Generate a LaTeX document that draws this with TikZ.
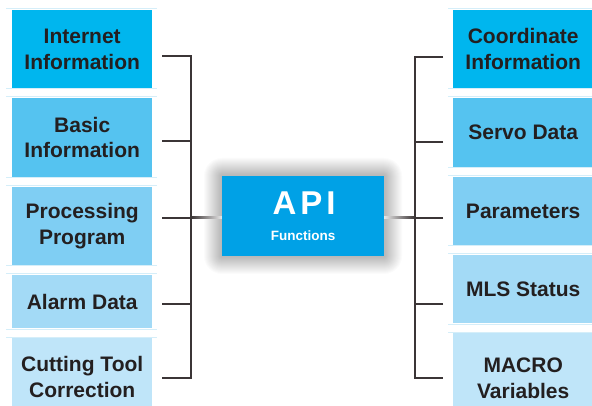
\documentclass[tikz,border=0pt]{standalone}
\usepackage{fontspec}
\setmainfont{Liberation Sans}
\usetikzlibrary{calc}
\definecolor{c1}{HTML}{00B6EE}
\definecolor{c2}{HTML}{55C3F0}
\definecolor{c3}{HTML}{7FCEF3}
\definecolor{c4}{HTML}{A3DAF6}
\definecolor{c5}{HTML}{BFE5F9}
\definecolor{apic}{HTML}{00A1E6}
\definecolor{txt}{HTML}{231F20}
\definecolor{linec}{HTML}{3B3536}
\definecolor{sepc}{HTML}{D5EEF9}
\begin{document}
\begin{tikzpicture}[x=1pt,y=-1pt,
  box/.style={draw=none, inner sep=0pt, align=center, anchor=north west,
    font=\fontsize{21}{25.5}\selectfont\bfseries, text=txt},
  conn/.style={draw=linec, line width=2pt},
  sep/.style={draw=sepc, line width=1pt}]
\useasboundingbox (0,0) rectangle (592,406);
\clip (0,0) rectangle (592,406);
\fill[white] (0,0) rectangle (592,406);
% separators
\foreach \y in {9,89,97,178,186,266,274,329,337} \draw[sep] (6,\y) -- (157,\y);
\foreach \y in {9,89,97,168,176,246,254,324,332} \draw[sep] (448,\y) -- (592,\y);
% left boxes
\node[box, fill=c1, minimum width=140pt, minimum height=78pt] (l1) at (12,10) {Internet\\Information};
\node[box, fill=c2, minimum width=140pt, minimum height=79pt] (l2) at (12,98) {Basic\\Information};
\node[box, fill=c3, minimum width=140pt, minimum height=78pt] (l3) at (12,187) {Processing\\Program};
\node[box, fill=c4, minimum width=140pt, minimum height=53pt] (l4) at (12,275) {Alarm Data};
\node[box, fill=c5, minimum width=140pt, minimum height=78pt] (l5) at (12,338) {Cutting Tool\\Correction};
% right boxes
\node[box, fill=c1, minimum width=140pt, minimum height=78pt] (r1) at (453,10) {Coordinate\\Information};
\node[box, fill=c2, minimum width=140pt, minimum height=69pt] (r2) at (453,98) {Servo Data};
\node[box, fill=c3, minimum width=140pt, minimum height=68pt] (r3) at (453,177) {Parameters};
\node[box, fill=c4, minimum width=140pt, minimum height=68pt] (r4) at (453,255) {MLS Status};
\node[box, fill=c5, minimum width=140pt, minimum height=90pt] (r5) at (453,333) {MACRO\\Variables};
% API box with soft shadow
\coordinate (apisw) at (222,256);
\coordinate (apine) at (384,176);
\foreach \i in {1,...,18}
  \fill[black, opacity=0.014, rounded corners=\i pt] ($(apisw)+(-\i,\i)$) rectangle ($(apine)+(\i,-\i)$);
\node[fill=apic, minimum width=162pt, minimum height=80pt, inner sep=0pt] (api) at (303,216) {};
\node[anchor=base, inner sep=0pt, text=white, font=\fontsize{33}{33}\selectfont\bfseries\addfontfeatures{LetterSpace=12}] (apit) at (304,215) {API};
\node[anchor=base, inner sep=0pt, text=white, font=\fontsize{13.5}{14}\selectfont\bfseries] (apif) at (303,241) {Functions};
% left connector coordinates
\coordinate (lt1) at (162,56);  \coordinate (lb1) at (191,56);
\coordinate (lt2) at (162,141); \coordinate (lb2) at (191,141);
\coordinate (lt3) at (162,218); \coordinate (lb3) at (191,218);
\coordinate (lt4) at (162,304); \coordinate (lb4) at (191,304);
\coordinate (lt5) at (162,378); \coordinate (lb5) at (191,378);
% right connector coordinates
\coordinate (rt1) at (443,57);  \coordinate (rb1) at (415,57);
\coordinate (rt2) at (443,142); \coordinate (rb2) at (415,142);
\coordinate (rt3) at (443,218); \coordinate (rb3) at (415,218);
\coordinate (rt4) at (443,304); \coordinate (rb4) at (415,304);
\coordinate (rt5) at (443,378); \coordinate (rb5) at (415,378);
% centre gradient links
\shade[left color=linec, right color=linec!12] ($(lb3)+(0,-1)$) rectangle ($(api.west |- lb3)+(0,1)$);
\shade[left color=linec!12, right color=linec] ($(api.east |- rb3)+(0,-1)$) rectangle ($(rb3)+(0,1)$);
% buses
\draw[conn] (lt1) -- (lb1) -- (lb5) -- (lt5);
\draw[conn] (lt2) -- (lb2);
\draw[conn] (lt3) -- (lb3);
\draw[conn] (lt4) -- (lb4);
\draw[conn] (rt1) -- (rb1) -- (rb5) -- (rt5);
\draw[conn] (rt2) -- (rb2);
\draw[conn] (rt3) -- (rb3);
\draw[conn] (rt4) -- (rb4);
\end{tikzpicture}
\end{document}
